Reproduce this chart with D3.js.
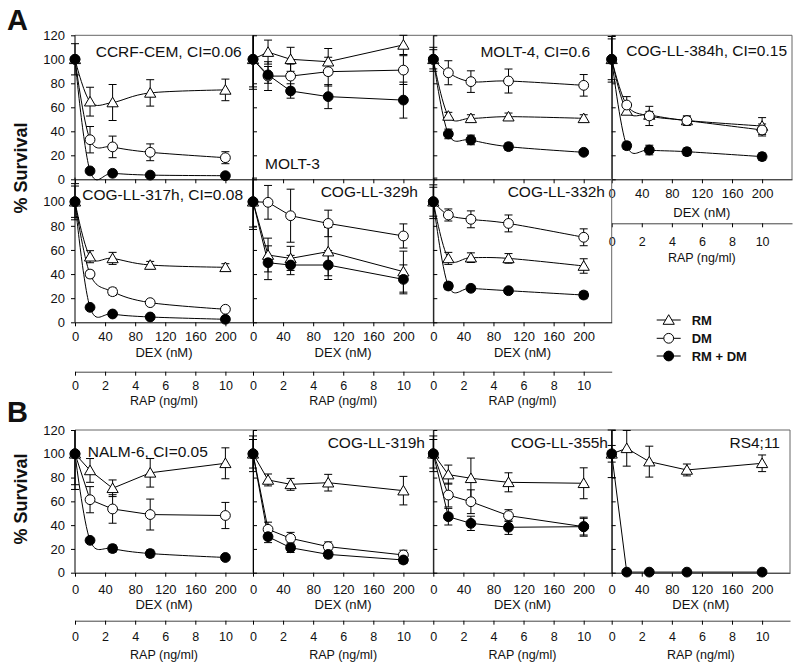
<!DOCTYPE html>
<html><head><meta charset="utf-8">
<script src="https://cdn.jsdelivr.net/npm/d3@7"></script>
<style>body{margin:0;background:#fff} text{font-family:"Liberation Sans",Arial,sans-serif;fill:#111}</style>
</head><body>
<svg id="c" width="800" height="669"></svg>
<script>
// ---------------- DATA ----------------
const dexDoses = [0, 20, 50, 100, 200];          // DEX (nM); RAP = DEX/20 ng/ml
const dexTicks = [0, 40, 80, 120, 160, 200];
const rapTicks = [0, 2, 4, 6, 8, 10];
const yTicksFull = [0, 20, 40, 60, 80, 100, 120];
const yTicksRow2 = [0, 20, 40, 60, 80, 100];
const panelTitles = ["CCRF-CEM, CI=0.06", "MOLT-3", "MOLT-4, CI=0.6", "COG-LL-384h, CI=0.15",
  "COG-LL-317h, CI=0.08", "COG-LL-329h", "COG-LL-332h",
  "NALM-6, CI=0.05", "COG-LL-319h", "COG-LL-355h", "RS4;11"];
const seriesNames = ["RM", "DM", "RM + DM"];
// RM (rapamycin) mean % survival per panel
const rmMean = [
  [100, 64.7, 64, 72, 74.5], [100, 106, 100, 98, 112], [100, 52.8, 50.8, 52.2, 50.8],
  [100, 57, 53.6, 49, 44.4], [100, 54.4, 53, 47.5, 45.6], [100, 55.8, 53, 58.6, 42],
  [100, 53, 53.6, 53, 46.7], [100, 86, 71, 84, 92], [100, 78, 74.3, 75.7, 69],
  [100, 82.5, 79.4, 76, 75.2], [100, 104.6, 93.4, 86.4, 92]];
const rmErr = [
  [13, 12, 15, 11, 9], [25, 10, 10, 11, 8], [10, 3, 3, 3, 3], [17, 3, 3, 3, 7],
  [15, 5, 5, 3, 3], [21, 14, 10, 20, 17], [14, 5, 4, 4, 6], [30, 10, 7, 12, 13],
  [15, 5, 5, 7, 12], [15, 8, 17, 8, 13], [20, 15, 13, 5, 7]];
// DM (dexamethasone)
const dmMean = [
  [100, 33, 27, 22.5, 18], [100, 86, 86, 89.7, 91], [100, 88.8, 81.4, 81.9, 78.3],
  [100, 61.9, 52.8, 48.9, 41.1], [100, 40, 25.4, 16.3, 10.8], [100, 99.5, 88.4, 82, 71.6],
  [100, 89, 85.4, 82, 70.5], [100, 61.4, 53.6, 48.9, 48.1], [100, 36.5, 28.9, 21.9, 14.9],
  [100, 65.3, 59.7, 48, 38.7], null];
const dmErr = [
  [0, 11, 9, 7, 5], [23, 12, 10, 12, 12], [8, 10, 9, 10, 9], [19, 7, 8, 4, 5],
  [13, 3, 3, 1.5, 1.5], [23, 14, 22, 11, 10], [12, 5, 7, 7, 7], [26, 11, 12, 13, 11],
  [12, 6, 5, 4, 4], [12, 10, 10, 5, 7], null];
// RM + DM combination
const comboMean = [
  [100, 7, 5, 3.5, 3], [100, 87, 73.6, 68.9, 66], [100, 37.8, 32.8, 27.2, 22.5],
  [100, 28, 24.4, 23, 18.9], [100, 12.4, 6.9, 4.4, 2.5], [100, 49.4, 47.5, 47.5, 35.6],
  [100, 30.1, 28.2, 26.2, 22.6], [100, 27.2, 20.3, 16.1, 12.8], [100, 30.3, 21, 15.4, 10.7],
  [100, 47.1, 41.5, 38.2, 38.7], [100, 0.5, 0.5, 0.5, 0.5]];
const comboErr = [
  [0, 1, 1, 1, 1], [0, 7, 6, 10, 15], [0, 4, 4, 3, 2], [0, 3, 4, 3, 3],
  [0, 1, 1, 1, 1], [0, 14, 8, 12, 12], [0, 3, 2, 2, 3], [0, 2, 3, 3, 2],
  [0, 5, 4, 3, 3], [0, 7, 6, 6, 8], [7, 0, 0, 0, 0]];
// curve style per panel for [RM, DM, RM+DM]: s = smooth spline, l = straight
const curveKinds = ["sss", "lll", "sss", "sss", "sss", "lll", "sss", "lls", "lll", "lll", "lll"];

// ---------------- LAYOUT ----------------
const svg = d3.select("#c");
const K = 0.752; // px per nM
const colLeft = [75, 253, 433.3, 611.7];
const colRight = [253, 433.3, 611.7, 792];
const rows = {
  A1: {y0: 179.3, top: 35.3, frameTop: true, dexPad: 5, dexTitle: 37.6, rapLine: 44, rapPad: 10, rapTitle: 82.5},
  A2: {y0: 322.3, top: 177.6, frameTop: false, dexPad: 5.8, dexTitle: 35, rapLine: 49.4, rapPad: 5.4, rapTitle: 82.7},
  B:  {y0: 572.7, top: 430, frameTop: true, dexPad: 8, dexTitle: 36, rapLine: 48, rapPad: 7.9, rapTitle: 86.3}
};
const layout = [
  {c: 0, r: "A1", labels: false, t: {a: "end", x: 241.7, y: 57}},
  {c: 1, r: "A1", labels: false, t: {a: "start", x: 265, y: 168.7}},
  {c: 2, r: "A1", labels: false, t: {a: "end", x: 590, y: 57}},
  {c: 3, r: "A1", labels: true, t: {a: "end", x: 787, y: 55.5}},
  {c: 0, r: "A2", labels: true, t: {a: "end", x: 243, y: 200.4}},
  {c: 1, r: "A2", labels: true, t: {a: "end", x: 418, y: 197.4}},
  {c: 2, r: "A2", labels: true, t: {a: "end", x: 605, y: 197.4}},
  {c: 0, r: "B", labels: true, t: {a: "start", x: 87.7, y: 457}},
  {c: 1, r: "B", labels: true, t: {a: "end", x: 425, y: 448}},
  {c: 2, r: "B", labels: true, t: {a: "end", x: 608, y: 448}},
  {c: 3, r: "B", labels: true, t: {a: "end", x: 780, y: 448}, right: 790}
];
const frameColor = "#666";

function drawMarker(g, type, x, y) {
  if (type === "tri") {
    g.append("path").attr("d", `M${x},${y - 5.3}L${x + 5.6},${y + 4.3}L${x - 5.6},${y + 4.3}Z`)
      .attr("fill", "#fff").attr("stroke", "#000").attr("stroke-width", 1);
  } else {
    g.append("circle").attr("cx", x).attr("cy", y).attr("r", 4.9)
      .attr("fill", type === "filled" ? "#000" : "#fff").attr("stroke", "#000").attr("stroke-width", 1);
  }
}

layout.forEach((p, i) => {
  const row = rows[p.r];
  const left = colLeft[p.c], right = p.right || colRight[p.c];
  const w = right - left;
  const x = d3.scaleLinear().domain([0, w / K]).range([left, right]);
  const xr = d3.scaleLinear().domain([0, w / K / 20]).range([left, right]);
  const y = d3.scaleLinear().domain([0, 120]).range([row.y0, row.top]);
  const g = svg.append("g");

  // frame
  if (row.frameTop) g.append("line").attr("x1", left).attr("x2", right).attr("y1", row.top).attr("y2", row.top)
    .attr("stroke", frameColor).attr("stroke-width", 1);
  g.append("line").attr("x1", right).attr("x2", right).attr("y1", row.top).attr("y2", row.y0)
    .attr("stroke", frameColor).attr("stroke-width", 1);

  // y axis
  if (p.c === 0) {
    const ticks = p.r === "A2" ? yTicksRow2 : yTicksFull;
    const ax = g.append("g").attr("transform", `translate(${left},0)`)
      .call(d3.axisLeft(y).tickValues(ticks).tickSize(4).tickPadding(6).tickSizeOuter(0));
    ax.select(".domain").attr("d", `M0,${row.y0}V${row.top}`);
    ax.selectAll("text").attr("font-size", 13).attr("fill", "#111");
  } else {
    g.append("g").attr("transform", `translate(${left},0)`)
      .call(d3.axisRight(y).tickValues(yTicksFull).tickSize(4).tickFormat("").tickSizeOuter(0));
  }

  // x axis (DEX)
  const xa = g.append("g").attr("transform", `translate(0,${row.y0})`)
    .call(d3.axisBottom(x).tickValues(dexTicks).tickSize(4).tickPadding(row.dexPad).tickSizeOuter(0)
      .tickFormat(p.labels ? d3.format("d") : ""));
  xa.selectAll("text").attr("font-size", 13).attr("fill", "#111");
  if (p.labels) {
    g.append("text").attr("x", (left + right) / 2).attr("y", row.y0 + row.dexTitle)
      .attr("text-anchor", "middle").attr("font-size", 13).text("DEX (nM)");
    const ra = g.append("g").attr("transform", `translate(0,${row.y0 + row.rapLine})`)
      .call(d3.axisBottom(xr).tickValues(rapTicks).tickSize(4).tickPadding(row.rapPad).tickSizeOuter(0));
    ra.select(".domain").attr("stroke", "#444");
    ra.selectAll("text").attr("font-size", 12.5).attr("fill", "#111");
    g.append("text").attr("x", (left + right) / 2).attr("y", row.y0 + row.rapTitle)
      .attr("text-anchor", "middle").attr("font-size", 12.5).text("RAP (ng/ml)");
  }
  g.selectAll(".domain").attr("stroke-width", 1);

  // data
  const series = [
    {m: rmMean[i], e: rmErr[i], type: "tri"},
    {m: dmMean[i], e: dmErr[i], type: "open"},
    {m: comboMean[i], e: comboErr[i], type: "filled"}
  ];
  const eg = g.append("g"), lg = g.append("g"), mg = g.append("g");
  series.forEach((s, si) => {
    if (!s.m) return;
    const pts = dexDoses.map((d, k) => ({d, v: s.m[k], e: s.e ? s.e[k] : 0}));
    pts.forEach(pt => {
      if (!pt.e) return;
      const hi = Math.min(pt.v + pt.e, 120), lo = pt.v - pt.e;
      const cx = x(pt.d);
      eg.append("line").attr("x1", cx).attr("x2", cx).attr("y1", y(lo)).attr("y2", y(hi)).attr("stroke", "#000");
      eg.append("line").attr("x1", cx - 4).attr("x2", cx + 4).attr("y1", y(lo)).attr("y2", y(lo)).attr("stroke", "#000");
      if (pt.v + pt.e <= 120) eg.append("line").attr("x1", cx - 4).attr("x2", cx + 4).attr("y1", y(hi)).attr("y2", y(hi)).attr("stroke", "#000");
    });
    const curve = curveKinds[i][si] === "s" ? d3.curveCardinal.tension(0) : d3.curveLinear;
    lg.append("path").datum(pts)
      .attr("d", d3.line().x(pt => x(pt.d)).y(pt => y(pt.v)).curve(curve))
      .attr("fill", "none").attr("stroke", "#000").attr("stroke-width", 1);
    pts.forEach(pt => drawMarker(mg, s.type, x(pt.d), y(pt.v)));
  });

  // title
  g.append("text").attr("x", p.t.x).attr("y", p.t.y).attr("text-anchor", p.t.a)
    .attr("font-size", 15.5).text(panelTitles[i]);
});

// panel letters and y titles
svg.append("text").attr("x", 7).attr("y", 30).attr("font-size", 29).attr("font-weight", "bold").text("A");
svg.append("text").attr("x", 7).attr("y", 422).attr("font-size", 29).attr("font-weight", "bold").text("B");
[[21, 168], [21, 499]].forEach(([cx, cy]) => {
  svg.append("text").attr("transform", `translate(${cx},${cy}) rotate(-90)`)
    .attr("text-anchor", "middle").attr("dominant-baseline", "central")
    .attr("font-size", 18).attr("font-weight", "bold").text("% Survival");
});

// legend
const legTypes = ["tri", "open", "filled"];
const legY = [320, 338.3, 356];
const lgd = svg.append("g");
seriesNames.forEach((n, k) => {
  lgd.append("line").attr("x1", 656.7).attr("x2", 680.7).attr("y1", legY[k]).attr("y2", legY[k]).attr("stroke", "#000");
  drawMarker(lgd, legTypes[k], 668.7, legY[k]);
  lgd.append("text").attr("x", 691.7).attr("y", legY[k] + 4.6).attr("font-size", 13).attr("font-weight", "bold").text(n);
});
</script>
</body></html>
